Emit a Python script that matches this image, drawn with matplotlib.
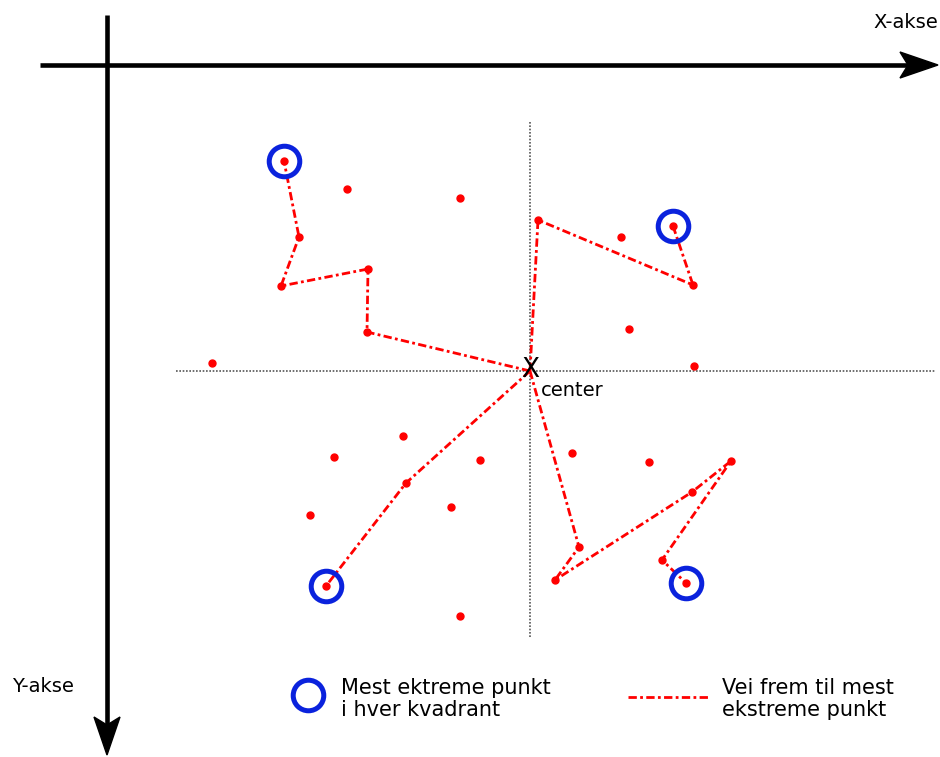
import numpy as np
import matplotlib
matplotlib.use("Agg")
import matplotlib.pyplot as plt
from matplotlib.patches import Polygon

# coordinates in the diagram's own system: origin where the axes cross,
# x to the right, y downwards (as the Y-akse arrow shows)
center = (423, 306)

# paths from the center to the most extreme point in each quadrant
path_q1_x = [423, 431, 586, 566]
path_q1_y = [306, 155, 220, 161]
path_q2_x = [423, 260, 261, 174, 192, 177]
path_q2_y = [306, 267, 204, 221, 172, 96]
path_q3_x = [423, 299, 219]
path_q3_y = [306, 418, 521]
path_q4_x = [423, 472, 448, 585, 624, 555, 579]
path_q4_y = [306, 482, 515, 427, 396, 495, 518]
paths = [(path_q1_x, path_q1_y), (path_q2_x, path_q2_y),
         (path_q3_x, path_q3_y), (path_q4_x, path_q4_y)]

# points not on any path
other_x = [240, 353, 105, 514, 522, 587, 296, 227, 373, 344, 203, 353, 465, 542]
other_y = [124, 133, 298, 172, 264, 301, 371, 392, 395, 442, 450, 551, 388, 397]

red_dash = (0, (3, 1.2, 1, 1.2))
blue = "#0a22dd"

fig = plt.figure(figsize=(9.4, 7.57), dpi=100)
ax = fig.add_axes([0, 0, 1, 1])
ax.set_xlim(-107, 833)
ax.set_ylim(692, -65)
ax.axis("off")

# main axes with arrows
ax.plot([-67, 805], [0, 0], color="black", lw=3.3, solid_capstyle="butt")
ax.plot([0, 0], [-50, 662], color="black", lw=3.3, solid_capstyle="butt")
ax.add_patch(Polygon([[831, 0], [793, -13], [801, 0], [793, 13]],
                     closed=True, color="black"))
ax.add_patch(Polygon([[0, 690], [-13, 652], [0, 660], [13, 652]],
                     closed=True, color="black"))
ax.text(831, -43, "X-akse", fontsize=14, ha="right", va="center")
ax.text(-95, 621, "Y-akse", fontsize=14, ha="left", va="center")

# dotted lines through the center
ax.plot([69, 828], [center[1], center[1]], color="#555555", lw=1.2,
        linestyle=(0, (1, 1)))
ax.plot([center[0], center[0]], [57, 573], color="#555555", lw=1.2,
        linestyle=(0, (1, 1)))

# paths
for px, py in paths:
    ax.plot(px, py, color="red", lw=2, linestyle=red_dash, marker="o",
            markersize=5, markevery=list(range(1, len(px))))
    ax.plot(px[-1], py[-1], marker="o", markersize=22, markerfacecolor="none",
            markeredgecolor=blue, markeredgewidth=3.6)

ax.plot(other_x, other_y, "o", color="red", markersize=5, linestyle="none")

# center mark
ax.text(center[0], center[1] - 1, "X", fontsize=19, ha="center", va="center")
ax.text(center[0] + 11, center[1] + 19, "center", fontsize=14,
        ha="left", va="center")

# legend
ax.plot([201], [630], marker="o", markersize=22, markerfacecolor="none",
        markeredgecolor=blue, markeredgewidth=3.6)
ax.text(234, 634, "Mest ektreme punkt\ni hver kvadrant", fontsize=15,
        ha="left", va="center", linespacing=1.1)
ax.plot([521, 601], [632, 632], color="red", lw=2, linestyle=red_dash)
ax.text(615, 634, "Vei frem til mest\nekstreme punkt", fontsize=15,
        ha="left", va="center", linespacing=1.1)

fig.savefig("out.png", dpi=100)
